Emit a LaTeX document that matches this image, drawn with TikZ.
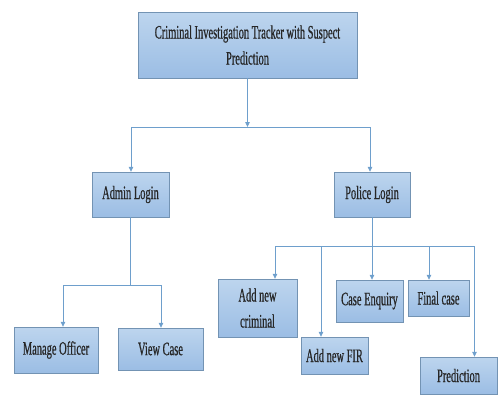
\documentclass[tikz,border=0pt]{standalone}
\usepackage{fontspec}
\setmainfont{Liberation Serif}[FakeStretch=0.55, FakeBold=0.6]
\usepackage{tikz}
\usetikzlibrary{arrows.meta}
\definecolor{boxtop}{HTML}{BDD5EE}
\definecolor{boxbot}{HTML}{9BBDE4}
\definecolor{boxline}{HTML}{7393B3}
\definecolor{linkblue}{HTML}{6E9FCC}
\definecolor{ink}{HTML}{262626}

\begin{document}
\begin{tikzpicture}[x=1pt, y=-1pt,
    box/.style={draw=boxline, top color=boxtop, bottom color=boxbot, align=center, inner sep=0pt, text=ink, font=\fontsize{19}{26}\selectfont},
    link/.style={draw=linkblue, line width=0.8pt},
    arr/.style={link, -{Triangle[width=4.5pt, length=5pt]}}]
    \useasboundingbox (0,0) rectangle (498,394);

    % Boxes
    \path
    (247.5, 45) node[box, minimum width=219pt, minimum height=66pt] (root) {Criminal Investigation Tracker with Suspect\\Prediction}
    (130.5, 194.5) node[box, minimum width=77pt, minimum height=45pt] (admin) {Admin Login}
    (372, 194.5) node[box, minimum width=76pt, minimum height=45pt] (police) {Police Login}
    (56, 350) node[box, minimum width=84pt, minimum height=46pt] (manage) {Manage Officer}
    (160.5, 349) node[box, minimum width=85pt, minimum height=42pt] (view) {View Case}
    (257.5, 308) node[box, minimum width=79pt, minimum height=58pt] (criminal) {Add new\\criminal}
    (334.5, 355.5) node[box, minimum width=67pt, minimum height=37pt] (fir) {Add new FIR}
    (369.5, 301) node[box, minimum width=67pt, minimum height=42pt] (enquiry) {Case Enquiry}
    (438.5, 298) node[box, minimum width=61pt, minimum height=36pt] (final) {Final case}
    (458.5, 375.5) node[box, minimum width=77pt, minimum height=37pt] (predict) {Prediction}
    ;

    % Junction points
    \coordinate (rootL) at (131, 127);
    \coordinate (rootR) at (370, 127);
    \coordinate (adminL) at (63, 285);
    \coordinate (adminR) at (161, 285);
    \coordinate (policeL) at (275, 246);
    \coordinate (policeR) at (474.5, 246);
    \coordinate (dropFir) at (321, 246);
    \coordinate (dropEnq) at (372, 246);
    \coordinate (dropFin) at (429, 246);

    % Root edges
    \draw[arr] (root.south) -- (root.south |- rootL);
    \draw[link] (rootL) -- (rootR);
    \draw[arr] (rootL) -- (rootL |- admin.north);
    \draw[arr] (rootR) -- (rootR |- police.north);

    % Admin edges
    \draw[link] (admin.south) -- (admin.south |- adminL);
    \draw[link] (adminL) -- (adminR);
    \draw[arr] (adminL) -- (adminL |- manage.north);
    \draw[arr] (adminR) -- (adminR |- view.north);

    % Police edges
    \draw[link] (police.south) -- (police.south |- policeL);
    \draw[link] (policeL) -- (policeR);
    \draw[arr] (policeL) -- (policeL |- criminal.north);
    \draw[arr] (dropFir) -- (dropFir |- fir.north);
    \draw[arr] (dropEnq) -- (dropEnq |- enquiry.north);
    \draw[arr] (dropFin) -- (dropFin |- final.north);
    \draw[arr] (policeR) -- (policeR |- predict.north);

\end{tikzpicture}
\end{document}
